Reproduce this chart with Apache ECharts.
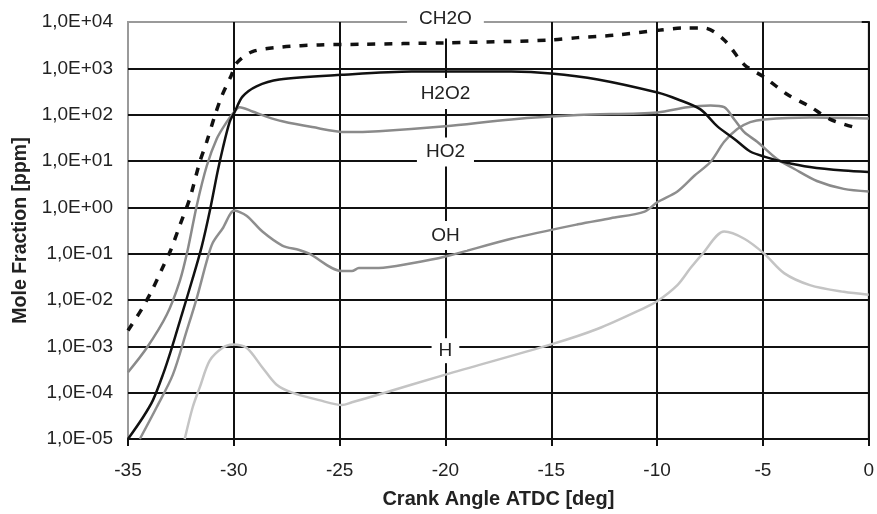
<!DOCTYPE html>
<html>
<head>
<meta charset="utf-8">
<script src="https://cdn.jsdelivr.net/npm/echarts@6/dist/echarts.min.js"></script>
<style>
html,body{margin:0;padding:0;background:#fff;}
#chart{width:877px;height:514px;}
</style>
</head>
<body>
<div id="chart"></div>
<script>
// ---- data ----
const xTicks = [-35, -30, -25, -20, -15, -10, -5, 0];
const yTickLabels = ['1,0E-05','1,0E-04','1,0E-03','1,0E-02','1,0E-01','1,0E+00','1,0E+01','1,0E+02','1,0E+03','1,0E+04'];

const ch2oX = [-35, -34.34, -33.87, -33.40, -32.98, -32.55, -32.08, -31.61, -31.28, -30.91, -30.58, -30.11, -29.87, -29.12, -27.71, -25.97, -24, -20, -17, -15, -13.74, -12, -9.84, -8.8, -7.77, -6.83, -5.88, -4.90, -3.86, -2.78, -1.84, -0.71];
const ch2oY = [0.0022, 0.0065, 0.016, 0.046, 0.12, 0.41, 1.55, 9.5, 26, 91, 245, 720, 1300, 2300, 2900, 3200, 3300, 3550, 3800, 4100, 4600, 5200, 6700, 7400, 7400, 4100, 1200, 630, 275, 150, 80, 54];

const h2o2X = [-35, -34.29, -33.82, -33.35, -32.93, -32.46, -31.94, -31.52, -31.14, -30.77, -30.53, -30.20, -29.97, -29.59, -28.93, -27.85, -24.89, -21.59, -16.89, -15.01, -12.80, -9.98, -9.04, -7.95, -7.15, -6.35, -5.60, -4.90, -4.00, -2.78, -1.18, 0];
const h2o2Y = [1e-5, 2.95e-5, 6.9e-5, 2.45e-4, 9.3e-4, 4.8e-3, 0.0295, 0.14, 0.81, 5.8, 18, 69, 112, 245, 410, 575, 725, 850, 850, 775, 575, 300, 215, 130, 56, 30, 16, 12.3, 9.5, 7.4, 6.2, 5.8];

const ho2X = [-35, -34.11, -33.17, -32.55, -32.18, -31.75, -31.28, -30.81, -30.34, -29.97, -29.73, -29.12, -28.46, -27.71, -26.30, -24.70, -23.15, -20, -16.89, -13.74, -9.98, -8.57, -7.48, -6.83, -6.35, -5.88, -5.27, -4.33, -3.53, -2.45, -1.18, 0];
const ho2Y = [2.75e-4, 9.3e-4, 4.8e-3, 0.026, 0.12, 1.1, 7.8, 30, 69, 117, 145, 117, 91, 72, 54, 42, 44, 56, 79, 98, 112, 145, 158, 145, 79, 42, 26, 11, 6.8, 3.7, 2.5, 2.2];

const ohX = [-34.44, -33.64, -32.88, -32.22, -31.75, -31.28, -31.0, -30.53, -29.97, -29.40, -28.65, -27.71, -26.91, -26.44, -24.89, -24.42, -24.09, -23.15, -21.59, -20, -16.89, -13.74, -12.19, -10.59, -9.98, -9.04, -8.24, -7.48, -6.83, -6.21, -5.60, -4.94, -2.78, 0];
const ohY = [1e-5, 4.9e-5, 2.45e-4, 2.2e-3, 0.011, 0.069, 0.17, 0.35, 0.85, 0.66, 0.30, 0.15, 0.12, 0.10, 0.042, 0.042, 0.049, 0.049, 0.062, 0.087, 0.21, 0.43, 0.58, 0.81, 1.3, 2.2, 4.8, 9.5, 26, 49, 69, 79, 87, 83];

const hX = [-32.32, -31.94, -31.61, -31.14, -30.53, -30.06, -29.40, -28.65, -27.99, -27.24, -25.97, -24.89, -24.42, -23.15, -20, -15.01, -12.80, -10.59, -9.98, -9.04, -8.42, -7.86, -6.83, -5.88, -4.94, -4.00, -2.78, -1.18, 0];
const hY = [1e-5, 4.9e-5, 1.3e-4, 4.9e-4, 9.3e-4, 1.1e-3, 9.3e-4, 3.5e-4, 1.5e-4, 1.0e-4, 6.9e-5, 5.4e-5, 6.2e-5, 9.1e-5, 2.45e-4, 1.1e-3, 2.4e-3, 6.8e-3, 9.5e-3, 0.021, 0.049, 0.098, 0.30, 0.21, 0.10, 0.038, 0.021, 0.015, 0.013];

// in-plot series labels (data coordinates)
const labelNames = ['CH2O', 'H2O2', 'HO2', 'OH', 'H'];
const labelX = [-20, -20, -20, -20, -20];
const labelY = [1e4, 301, 16.4, 0.26, 8.9e-4];

// ---- chart ----
const FONT = '"Liberation Sans", Arial, sans-serif';
const zip = (xs, ys) => xs.map((x, i) => [x, ys[i]]);

const labelPads = [[10, 12], [6, 6], [5, 9], [5, 7], [3, 7]];
const labelOffsets = [[0, -3], [0, 1], [0, 1], [0, 1], [0, 2]];

const chart = echarts.init(document.getElementById('chart'), null, {renderer: 'canvas'});
const option = {
  animation: false,
  backgroundColor: '#fff',
  grid: {
    left: 128, right: 5, top: 22, bottom: 72,
    show: true, borderColor: '#9a9a9a', borderWidth: 2, backgroundColor: 'transparent'
  },
  xAxis: {
    type: 'value', min: -35, max: 0, interval: 5,
    name: 'Crank Angle ATDC [deg]',
    nameLocation: 'middle', nameGap: 50,
    nameTextStyle: {fontFamily: FONT, fontSize: 20, fontWeight: 'bold', color: '#222'},
    axisLine: {show: true, onZero: false, lineStyle: {color: '#111', width: 2}},
    axisTick: {show: true, length: 7, lineStyle: {color: '#111', width: 2}},
    axisLabel: {fontFamily: FONT, fontSize: 19, color: '#222', margin: 22},
    splitLine: {show: true, showMinLine: false, showMaxLine: false, lineStyle: {color: '#111', width: 2}}
  },
  yAxis: {
    type: 'log', logBase: 10, min: 1e-5, max: 1e4, interval: 1,
    name: 'Mole Fraction [ppm]',
    nameLocation: 'middle', nameGap: 97, nameRotate: 90,
    nameTextStyle: {fontFamily: FONT, fontSize: 19.5, fontWeight: 'bold', color: '#222'},
    axisLine: {show: true, lineStyle: {color: '#111', width: 2}},
    axisTick: {show: true, length: 7, lineStyle: {color: '#111', width: 2}},
    axisLabel: {
      fontFamily: FONT, fontSize: 19, color: '#222', margin: 15,
      formatter: v => yTickLabels[Math.round(Math.log10(v)) + 5]
    },
    splitLine: {show: true, showMinLine: false, showMaxLine: false, lineStyle: {color: '#111', width: 2}}
  },
  series: [
    {
      name: 'H', type: 'line', data: zip(hX, hY), showSymbol: false, smooth: 0.3,
      lineStyle: {color: '#c4c4c4', width: 2.5}, z: 3
    },
    {
      name: 'OH', type: 'line', data: zip(ohX, ohY), showSymbol: false, smooth: 0.3,
      lineStyle: {color: '#8e8e8e', width: 2.5}, z: 3
    },
    {
      name: 'HO2', type: 'line', data: zip(ho2X, ho2Y), showSymbol: false, smooth: 0.3,
      lineStyle: {color: '#8a8a8a', width: 2.5}, z: 3
    },
    {
      name: 'H2O2', type: 'line', data: zip(h2o2X, h2o2Y), showSymbol: false, smooth: 0.3,
      lineStyle: {color: '#111', width: 2.5}, z: 4
    },
    {
      name: 'CH2O', type: 'line', data: zip(ch2oX, ch2oY), showSymbol: false, smooth: 0.3,
      lineStyle: {color: '#111', width: 3.5, type: [8, 9], cap: 'butt'}, z: 4,
      markPoint: {
        symbol: 'rect', symbolSize: 0, silent: true,
        label: {show: true, position: 'inside', fontFamily: FONT, fontSize: 19, color: '#222', backgroundColor: '#fff'},
        data: labelNames.map((n, i) => ({
          name: n, coord: [labelX[i], labelY[i]], value: n,
          label: {formatter: n, padding: labelPads[i], offset: labelOffsets[i]}
        }))
      }
    }
  ]
};
chart.setOption(option);
</script>
</body>
</html>
